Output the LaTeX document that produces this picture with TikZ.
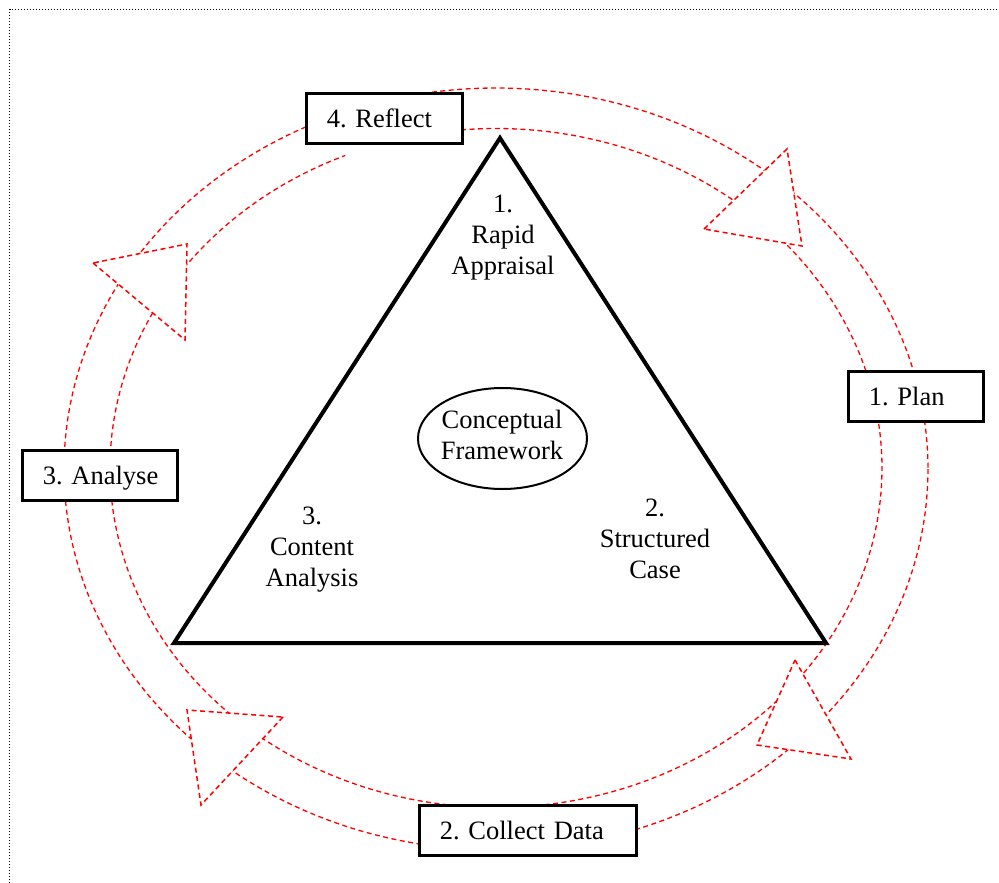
\documentclass[tikz,border=0pt]{standalone}
\usepackage{fontspec}
\setmainfont{Liberation Serif}
\usetikzlibrary{shapes.geometric}
\frenchspacing
\begin{document}
\begin{tikzpicture}[x=1pt,y=-1pt,
  frame/.style={black, line width=1.4pt, dash pattern=on 1.4pt off 1.6pt},
  ring/.style={red, line width=1.3pt, dash pattern=on 5pt off 3.5pt},
  headtip/.style={red, fill=white, line width=1.5pt, dash pattern=on 5pt off 3.5pt, line join=miter},
  stage/.style={draw=black, fill=white, line width=2.5pt, rectangle, anchor=north west,
    inner xsep=20.5pt, inner ysep=0pt, minimum height=50pt, text height=18.5pt, text depth=0pt,
    align=left, font=\fontsize{26.5}{31}\selectfont},
  lbl/.style={align=center, inner sep=0pt, anchor=north, font=\fontsize{26.5}{31}\selectfont},
  pyramid/.style={black, line width=4pt, line join=miter},
  core/.style={draw=black, line width=2pt, ellipse, minimum width=169pt, minimum height=101pt, inner sep=0pt}]
\useasboundingbox (0,0) rectangle (999,883);

% dotted page frame
\draw[frame] (9.5,883) -- (9.5,9.5) -- (999,9.5);

% cycle band: outer and inner dashed rings
\draw[ring] plot[domain=0:360, samples=240, smooth] ({496+432*cos(\x)},{469+381*sin(\x)});
\draw[ring] plot[domain=-95.2:247, samples=240, smooth] ({496+386*cos(\x)},{468+339.5*sin(\x)});

% open arrowheads on the band
\draw[headtip] (704,229) -- (787,149) -- (802,246) -- cycle;
\draw[headtip] (795,660) -- (851,759) -- (757,745) -- cycle;
\draw[headtip] (283,717) -- (201,805) -- (187,710) -- cycle;
\draw[headtip] (93,263) -- (185,340) -- (187,244) -- cycle;

% stage boxes
\node[stage, text width=115pt] (reflect) at (305,92) {\mbox{4. Reflect}};
\node[stage, text width=94pt] (plan) at (847,370) {\mbox{1. Plan}};
\node[stage, text width=114pt] (analyse) at (21,449) {\mbox{3. Analyse}};
\node[stage, text width=176pt] (collect) at (418,804) {\mbox{2. Collect Data}};

% triangle of methods
\draw[pyramid] (500,138) -- (826,643) -- (174,643) -- cycle;

\node[core] (framework) at (502.5,438.5) {};
\node[lbl] (concept) at (502,410) {Conceptual\\Framework};
\node[lbl] (rapid) at (503,195) {1.\\Rapid\\Appraisal};
\node[lbl] (structured) at (655,499) {2.\\Structured\\Case};
\node[lbl] (content) at (312,507) {3.\\Content\\Analysis};
\end{tikzpicture}
\end{document}
